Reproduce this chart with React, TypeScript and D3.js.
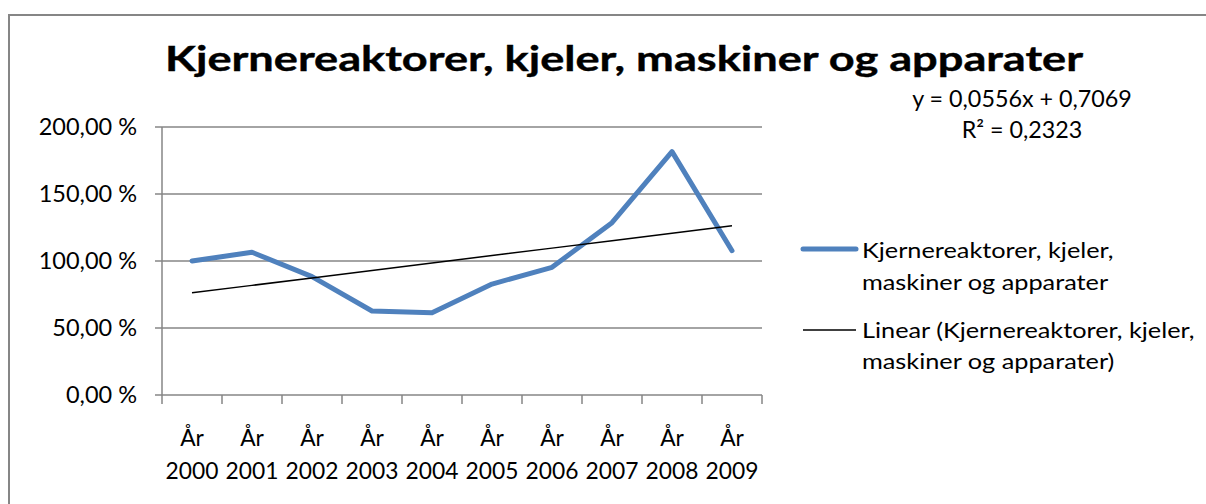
import React from "react";
import * as d3 from "d3";

// Data
const years = ["2000", "2001", "2002", "2003", "2004", "2005", "2006", "2007", "2008", "2009"];
const values = [1.0, 1.065, 0.883, 0.627, 0.614, 0.828, 0.953, 1.286, 1.816, 1.077];
const yTicks = [0, 0.5, 1, 1.5, 2];
const seriesName = "Kjernereaktorer, kjeler, maskiner og apparater";
const trendSlope = 0.0556;
const trendIntercept = 0.7069;
const trendR2 = 0.2323;

const W = 1206;
const H = 504;
const FONT = "Lato, 'Open Sans', sans-serif";
const GRID = "#868686";
const BLUE = "#4F81BD";

const fmtPct = (v: number) => (v * 100).toFixed(2).replace(".", ",") + " %";
const fmtNum = (v: number) => v.toFixed(4).replace(".", ",");

const App = () => {
    // scales
    const x = d3.scalePoint<string>().domain(years).range([162, 762]).padding(0.5);
    const y = d3.scaleLinear().domain([0, 2]).range([395, 127]);
    const step = x.step();

    const line = d3
        .line<number>()
        .x((d, i) => x(years[i]) as number)
        .y((d) => y(d));

    // linear trendline from the fitted coefficients (x = 1..n)
    const trend = years.map((_, i) => trendIntercept + trendSlope * (i + 1));

    const bandEdges = d3.range(years.length + 1).map((i) => 162 + i * step);

    return (
        <svg
            width={W}
            height={H}
            style={{ position: "absolute", left: 0, top: 0, display: "block", background: "#fff" }}
            fontFamily={FONT}
        >
            {/* chart frame */}
            <rect x={9} y={15} width={1210} height={510} fill="none" stroke={GRID} strokeWidth={2} />

            {/* title */}
            <text
                x={165}
                y={71}
                fontSize={35}
                fontWeight="bold"
                fill="#000"
                stroke="#000"
                strokeWidth={0.4}
                textLength={918}
                lengthAdjust="spacingAndGlyphs"
            >
                {seriesName}
            </text>

            {/* gridlines + y labels */}
            {yTicks.map((t) => (
                <g key={t}>
                    <line x1={155} x2={762} y1={y(t)} y2={y(t)} stroke={GRID} strokeWidth={1.5} />
                    <text x={137} y={y(t)} dy="0.36em" textAnchor="end" fontSize={23.5} fill="#000">
                        {fmtPct(t)}
                    </text>
                </g>
            ))}

            {/* y axis */}
            <line x1={162} x2={162} y1={127} y2={395} stroke={GRID} strokeWidth={1.5} />

            {/* x ticks */}
            {bandEdges.map((e, i) => (
                <line key={i} x1={e} x2={e} y1={395} y2={404} stroke={GRID} strokeWidth={1.5} />
            ))}

            {/* x labels */}
            {years.map((yr) => (
                <text key={yr} x={x(yr)} textAnchor="middle" fontSize={22.8} fill="#000">
                    <tspan x={x(yr)} y={446}>År</tspan>
                    <tspan x={x(yr)} y={479}>{yr}</tspan>
                </text>
            ))}

            {/* series */}
            <path
                d={line(values) || ""}
                fill="none"
                stroke={BLUE}
                strokeWidth={5}
                strokeLinejoin="round"
                strokeLinecap="round"
            />

            {/* trendline */}
            <path d={line(trend) || ""} fill="none" stroke="#000" strokeWidth={1.5} />

            {/* trend equation */}
            <text x={1022} y={107} textAnchor="middle" fontSize={23.3} fill="#000">
                {`y = ${fmtNum(trendSlope)}x + ${fmtNum(trendIntercept)}`}
            </text>
            <text x={1022} y={138} textAnchor="middle" fontSize={23.3} fill="#000">
                {`R² = ${fmtNum(trendR2)}`}
            </text>

            {/* legend */}
            <line x1={803} x2={856} y1={249} y2={249} stroke={BLUE} strokeWidth={5} strokeLinecap="round" />
            <line x1={803} x2={856} y1={330} y2={330} stroke="#000" strokeWidth={1.5} />
            <g transform="translate(862,0) scale(1.15,1)" fontSize={22} fill="#000">
                <text>
                    <tspan x={0} y={258}>Kjernereaktorer, kjeler,</tspan>
                    <tspan x={0} y={290}>maskiner og apparater</tspan>
                </text>
                <text>
                    <tspan x={0} y={338}>Linear (Kjernereaktorer, kjeler,</tspan>
                    <tspan x={0} y={369}>maskiner og apparater)</tspan>
                </text>
            </g>
        </svg>
    );
};

export default App;
